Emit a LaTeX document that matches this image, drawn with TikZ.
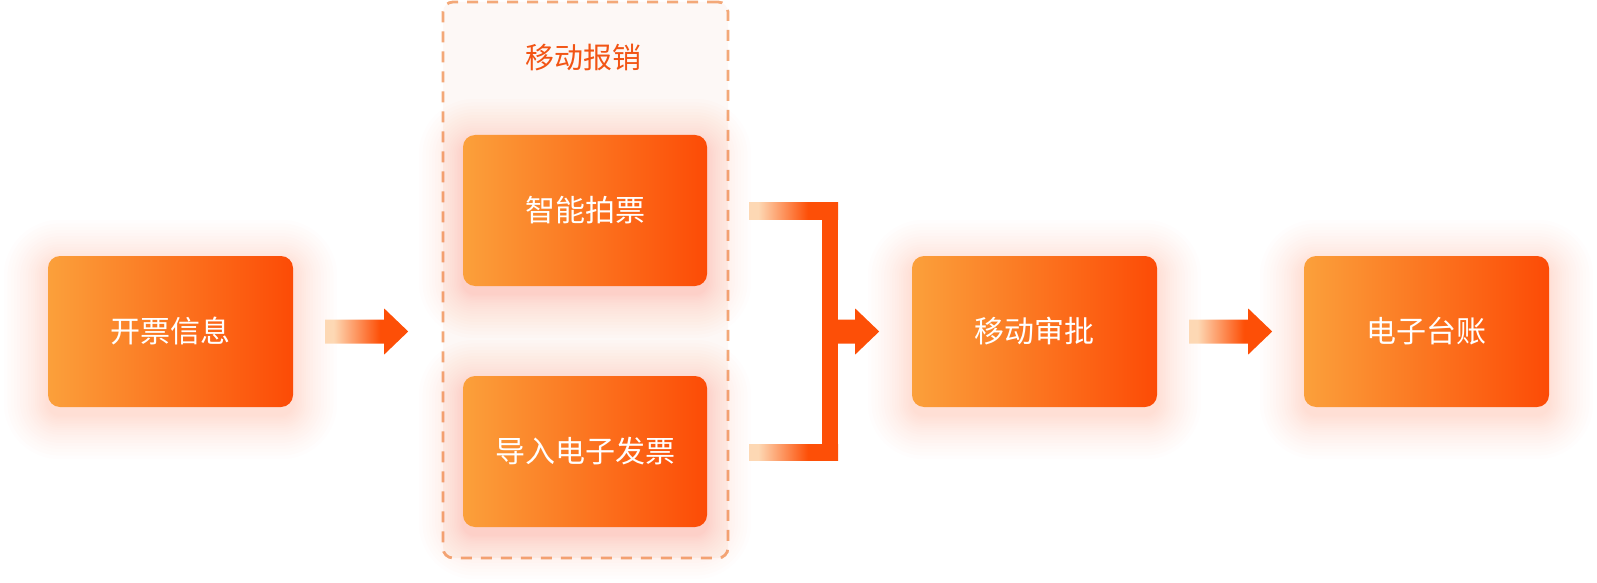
\documentclass[tikz,border=0pt]{standalone}
\usepackage{fontspec}
\newfontfamily\cjk{Noto Sans CJK SC}
\usetikzlibrary{calc}

\definecolor{boxleft}{HTML}{FBA03B}
\definecolor{boxright}{HTML}{FC4B06}
\definecolor{peach}{HTML}{FDD8B4}
\definecolor{flowred}{HTML}{FD4F07}
\definecolor{glowc}{HTML}{FF6A3C}
\definecolor{dashc}{HTML}{F3A878}
\definecolor{panelbg}{HTML}{FDF8F6}
\definecolor{titlec}{HTML}{F25414}

\pgfdeclarehorizontalshading{arrowfade}{100bp}{color(0bp)=(peach); color(30bp)=(peach); color(58bp)=(flowred); color(100bp)=(flowred)}

\pgfdeclarelayer{back}
\pgfdeclarelayer{glow}
\pgfsetlayers{back,glow,main}

% soft orange halo under a box
\newcommand{\glowbox}[1]{%
    \foreach \g in {1,...,20}{%
        \pgfmathsetmacro{\glowd}{0.8*\g+0.07*\g*\g}
        \pgfmathsetmacro{\glowr}{12+\glowd}
        \fill[glowc, fill opacity=0.012, rounded corners=\glowr pt]
            ($(#1.south west)+(-\glowd,-\glowd-8)$) rectangle ($(#1.north east)+(\glowd,\glowd-8)$);
    }}

% block arrow leaving a box to the right
\newcommand{\flowarrow}[1]{%
    \shade[shading=arrowfade] ($(#1.east)+(32,-12)$) -- ++(59,0) -- ++(0,-11) -- ++(24,23)
        -- ++(-24,23) -- ++(0,-11) -- ++(-59,0) -- cycle;}

\begin{document}
\begin{tikzpicture}[
        x=1pt, y=1pt,
        flowbox/.style={minimum width=245pt, minimum height=151pt, inner sep=0pt,
            rounded corners=12pt, left color=boxleft, right color=boxright,
            text=white, font=\cjk\fontsize{30}{36}\selectfont},
        panel/.style={minimum width=285pt, minimum height=556pt, rounded corners=10pt,
            draw=dashc, line width=2.8pt, dash pattern=on 11pt off 9pt, fill=panelbg},
        titletext/.style={text=titlec, font=\cjk\fontsize{29}{34}\selectfont}
        ]
    \useasboundingbox (0,0) rectangle (1597,582);

    \begin{pgfonlayer}{back}
        \node [panel] (panel) at (585.5,302) {};
    \end{pgfonlayer}
    \node [titletext] (paneltitle) at (583,524) {移动报销};

    \node [flowbox] (info) at (170.5,250.5) {开票信息};
    \node [flowbox, minimum width=244pt] (snap) at (585,371.5) {智能拍票};
    \node [flowbox, minimum width=244pt] (import) at (585,130.5) {导入电子发票};
    \node [flowbox] (approve) at (1034.5,250.5) {移动审批};
    \node [flowbox] (ledger) at (1426.5,250.5) {电子台账};

    \begin{pgfonlayer}{glow}
        \glowbox{info}
        \glowbox{snap}
        \glowbox{import}
        \glowbox{approve}
        \glowbox{ledger}
    \end{pgfonlayer}

    \flowarrow{info}
    \flowarrow{approve}

    % bracket joining the two uploads
    \coordinate (jtop) at ($(snap.east)+(131,8)$);
    \coordinate (jbot) at ($(import.east)+(131,-8.5)$);
    \shade [shading=arrowfade] ($(snap.east)+(42,-8.5)$) rectangle (jtop);
    \shade [shading=arrowfade] (jbot) rectangle ($(import.east)+(42,7.5)$);
    \fill [flowred] ($(jbot)+(-16,0)$) rectangle (jtop);
    \fill [flowred] ($(jbot |- approve.west)+(0,-12)$) -- ++(17,0) -- ++(0,-11) -- ++(24,23)
        -- ++(-24,23) -- ++(0,-11) -- ++(-17,0) -- cycle;
\end{tikzpicture}
\end{document}
